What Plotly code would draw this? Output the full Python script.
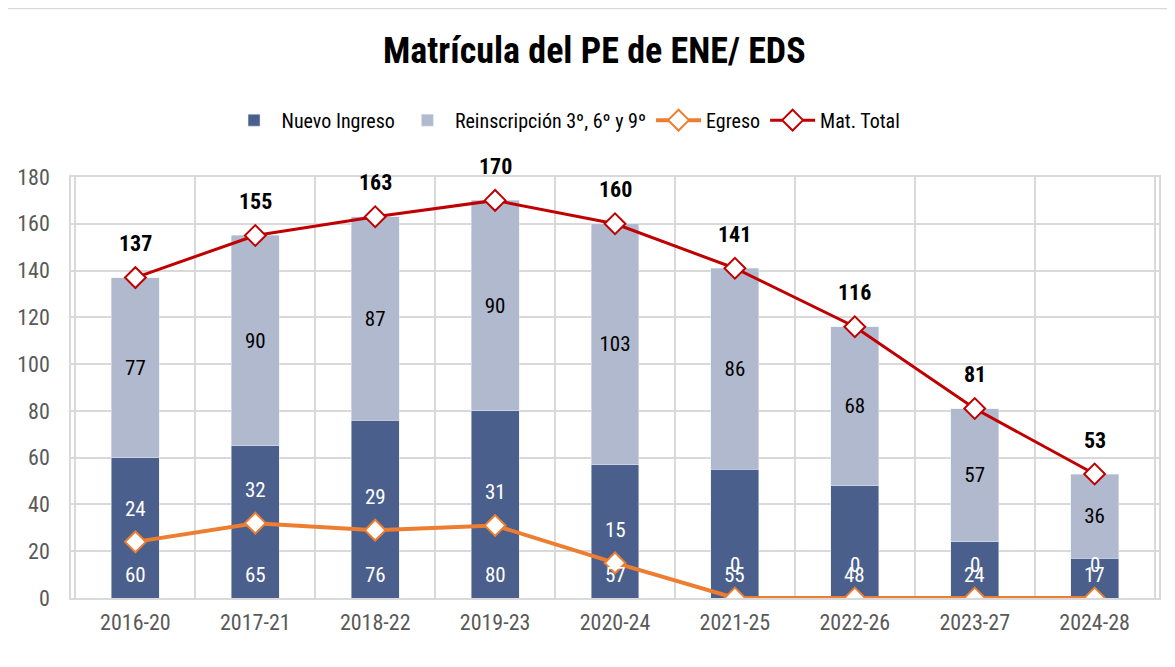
import plotly.graph_objects as go

periodos = ["2016-20", "2017-21", "2018-22", "2019-23", "2020-24",
            "2021-25", "2022-26", "2023-27", "2024-28"]
nuevo_ingreso = [60, 65, 76, 80, 57, 55, 48, 24, 17]
reinscripcion = [77, 90, 87, 90, 103, 86, 68, 57, 36]
egreso = [24, 32, 29, 31, 15, 0, 0, 0, 0]
mat_total = [137, 155, 163, 170, 160, 141, 116, 81, 53]

FONT = "Roboto Condensed, Liberation Sans Narrow, Arial Narrow, sans-serif"

fig = go.Figure()

fig.add_trace(go.Bar(
    x=periodos, y=nuevo_ingreso, name="Nuevo Ingreso",
    marker_color="#4A5F8C", width=0.4))
fig.add_trace(go.Bar(
    x=periodos, y=reinscripcion, name="Reinscripción 3º, 6º y 9º",
    marker_color="#B0B9CE", width=0.4,
    text=reinscripcion, textposition="inside", insidetextanchor="middle",
    textfont=dict(color="black", size=21, family=FONT),
    constraintext="none"))
fig.add_trace(go.Scatter(
    x=periodos, y=egreso, name="Egreso", mode="lines+markers",
    line=dict(color="#ED7D31", width=4),
    marker=dict(symbol="diamond", size=16, color="white",
                line=dict(color="#ED7D31", width=2))))
fig.add_trace(go.Scatter(
    x=periodos, y=mat_total, name="Mat. Total", mode="lines+markers",
    line=dict(color="#C00000", width=3),
    marker=dict(symbol="diamond", size=16, color="white",
                line=dict(color="#C00000", width=2))))

# etiquetas: nuevo ingreso en la base de la barra, lineas por encima del punto
for p, v in zip(periodos, nuevo_ingreso):
    fig.add_annotation(x=p, y=0, text=str(v), showarrow=False, yshift=23,
                       font=dict(color="white", size=21, family=FONT))
for p, v in zip(periodos, egreso):
    fig.add_annotation(x=p, y=v, text=str(v), showarrow=False, yshift=33,
                       font=dict(color="white", size=21, family=FONT))
for p, v in zip(periodos, mat_total):
    fig.add_annotation(x=p, y=v, text="<b>%d</b>" % v, showarrow=False, yshift=34,
                       font=dict(color="black", size=22, family=FONT))

# marco del grafico
fig.add_shape(type="rect", xref="paper", yref="paper",
              x0=-0.059, x1=1.01, y0=-0.18, y1=1.40,
              line=dict(color="#D9D9D9", width=1.5), layer="below")

# la pagina deja 8 px de margen en el body: el lienzo se reduce en esa medida
fig.update_layout(
    width=1167, height=659,
    margin=dict(l=63, r=16, t=169, b=69),
    barmode="stack",
    plot_bgcolor="white", paper_bgcolor="white",
    font=dict(family=FONT, color="#595959", size=21),
    title=dict(text="<b>Matrícula del PE de ENE/ EDS</b>", x=0.481, xanchor="center",
               xref="paper", y=1 - 42 / 659, yref="container", yanchor="middle",
               automargin=False,
               font=dict(size=36, color="black", family=FONT)),
    legend=dict(orientation="h", x=0.455, xanchor="center", y=1.135, yanchor="middle",
                font=dict(size=20, color="black", family=FONT),
                traceorder="normal", itemwidth=45),
    showlegend=True,
)
fig.update_xaxes(type="category", tickson="boundaries", showgrid=True,
                 gridcolor="#D9D9D9", gridwidth=1.5, ticks="", showline=True,
                 linecolor="#D9D9D9", linewidth=1.5, mirror=True, automargin=False,
                 tickfont=dict(size=22, color="#595959"), ticklabelstandoff=4)
fig.update_yaxes(range=[0, 180], dtick=20, showgrid=True, gridcolor="#D9D9D9",
                 gridwidth=1.5, zeroline=False, showline=True, linecolor="#D9D9D9",
                 linewidth=1.5, mirror=True, ticks="", automargin=False,
                 tickfont=dict(size=22, color="#595959"), ticklabelstandoff=15)

fig.write_html("out.html")
